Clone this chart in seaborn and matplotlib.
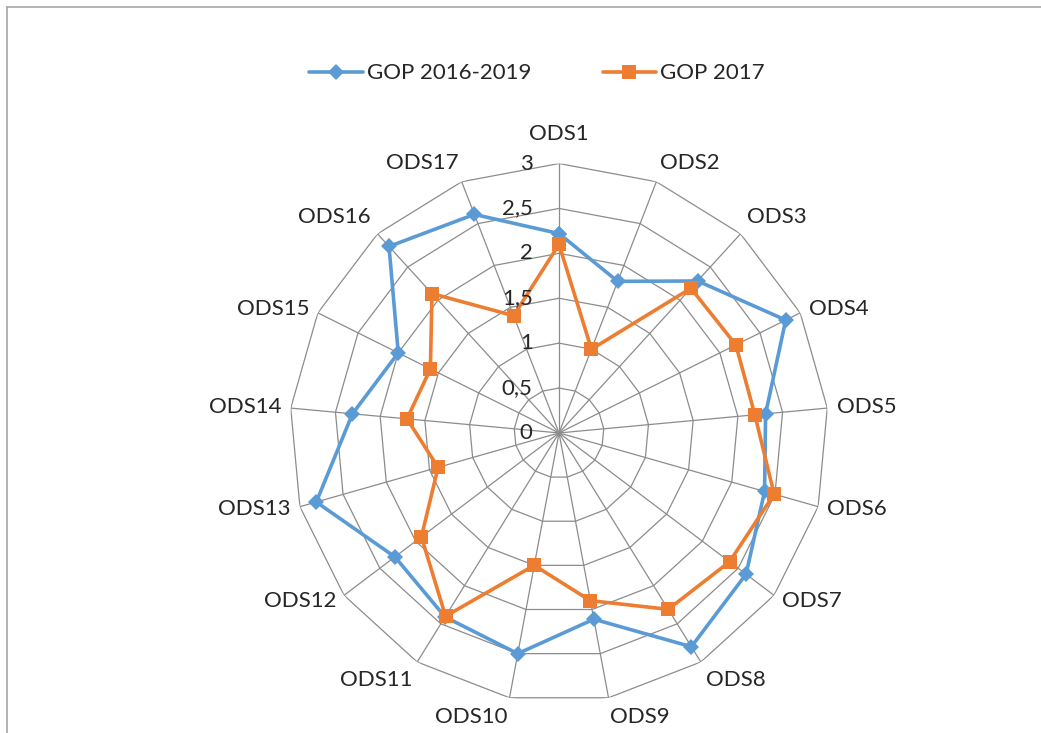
import numpy as np
import pandas as pd
import seaborn as sns
from matplotlib import pyplot as plt
from matplotlib.lines import Line2D

categories = ["ODS%d" % i for i in range(1, 18)]
gop_2016_2019 = [2.22, 1.81, 2.29, 2.82, 2.31, 2.38, 2.61, 2.80, 2.11, 2.50,
                 2.41, 2.29, 2.81, 2.31, 2.00, 2.81, 2.61]
gop_2017 = [2.10, 1.00, 2.18, 2.20, 2.19, 2.49, 2.38, 2.31, 1.90, 1.50,
            2.40, 1.92, 1.40, 1.70, 1.60, 2.10, 1.40]
radial_ticks = [0, 0.5, 1, 1.5, 2, 2.5, 3]
radial_labels = ["0", "0,5", "1", "1,5", "2", "2,5", "3"]
series_names = ["GOP 2016-2019", "GOP 2017"]

blue = "#5B9BD5"
orange = "#ED7D31"
grid_col = "#8C8C8C"

sns.set_style("white")
plt.rcParams['font.family'] = ['Lato', 'DejaVu Sans']

n = len(categories)
theta = 2 * np.pi * np.arange(n) / n
theta_closed = np.append(theta, 2 * np.pi)

# long table, loop closed by repeating the first point
rows = []
for name, vals in zip(series_names, [gop_2016_2019, gop_2017]):
    for t, v in zip(theta_closed, vals + vals[:1]):
        rows.append({"series": name, "theta": t, "value": v})
df = pd.DataFrame(rows)

fig = plt.figure(figsize=(10.41, 7.33), dpi=100)
ax = fig.add_axes([0.2782, 0.0418, 0.5176, 0.7351], projection="polar")
ax.set_theta_zero_location("N")
ax.set_theta_direction(-1)
ax.set_ylim(0, 3)
ax.grid(False)
ax.spines["polar"].set_visible(False)
ax.set_xticks([])
ax.set_yticks([])

# polygon grid + spokes like excel
for lvl in radial_ticks[1:]:
    ax.plot(theta_closed, [lvl] * (n + 1), color=grid_col, lw=0.9, zorder=1)
for t in theta:
    ax.plot([t, t], [0, 3], color=grid_col, lw=0.9, zorder=1)

markers = {"GOP 2016-2019": ("D", 8, blue), "GOP 2017": ("s", 10, orange)}
for name in series_names:
    m, ms, c = markers[name]
    sns.lineplot(data=df[df["series"] == name], x="theta", y="value", sort=False,
                 color=c, lw=2.6, marker=m, markersize=ms, markeredgewidth=0,
                 ax=ax, legend=False, zorder=3)
ax.set_xlabel("")
ax.set_ylabel("")

# category labels around the outside
for i, (t, lab) in enumerate(zip(theta, categories)):
    s, c = np.sin(t), np.cos(t)
    ha = "left" if s > 0.1 else ("right" if s < -0.1 else "center")
    va = "bottom" if c > 0.65 else ("top" if c < -0.65 else "center")
    pad = 14 if i == 0 else 7
    ax.annotate(lab, xy=(t, 3), xytext=(pad * s, pad * c), textcoords="offset points",
                ha=ha, va=va, fontsize=16, annotation_clip=False)

for v, lab in zip(radial_ticks, radial_labels):
    ax.annotate(lab, xy=(0, v), xytext=(-19, 0), textcoords="offset points",
                ha="right", va="center", fontsize=16, annotation_clip=False)

handles = [Line2D([], [], color=blue, lw=2.6, marker="D", markersize=8, markeredgewidth=0),
           Line2D([], [], color=orange, lw=2.6, marker="s", markersize=10, markeredgewidth=0)]
fig.legend(handles, series_names, loc="center", bbox_to_anchor=(0.516, 0.9), ncol=2,
           frameon=False, fontsize=16, handlelength=2.4, handletextpad=0.2,
           columnspacing=3.2)

# chart area border (top and left only visible)
fig.add_artist(Line2D([7 / 1041, 1], [1 - 7 / 733, 1 - 7 / 733], color="#A6A6A6", lw=1.2))
fig.add_artist(Line2D([7 / 1041, 7 / 1041], [0, 1 - 7 / 733], color="#A6A6A6", lw=1.2))

fig.savefig("out.png", dpi=100)
